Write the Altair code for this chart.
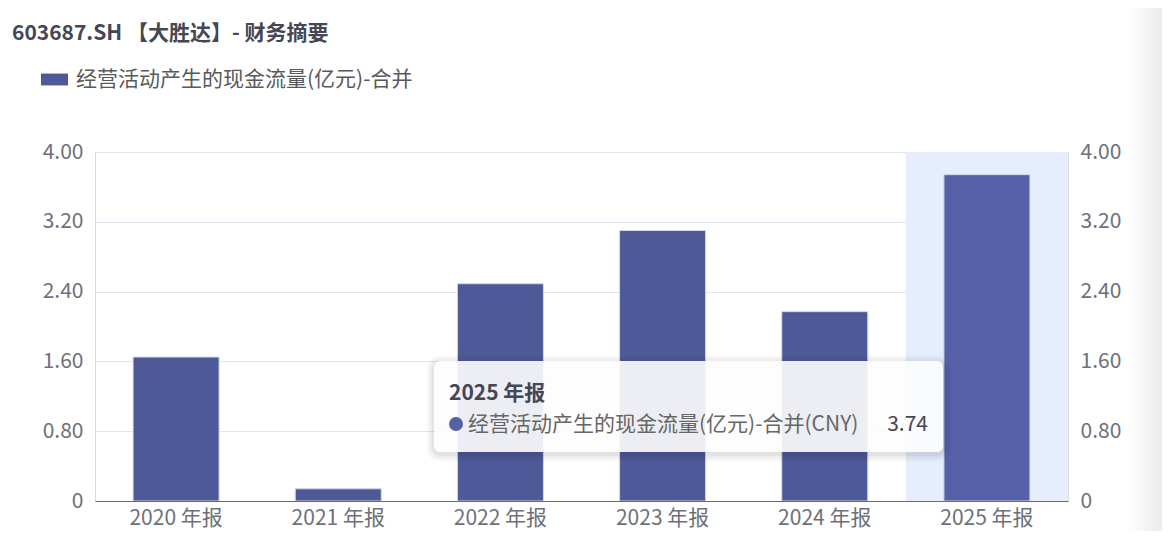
import altair as alt
import pandas as pd

categories = ["2020 年报", "2021 年报", "2022 年报", "2023 年报", "2024 年报", "2025 年报"]
values = [1.65, 0.14, 2.49, 3.10, 2.17, 3.74]
series_name = "经营活动产生的现金流量(亿元)-合并"
y_ticks = [0, 0.8, 1.6, 2.4, 3.2, 4.0]
title_text = "603687.SH 【大胜达】- 财务摘要"
highlight = "2025 年报"
unit = "CNY"

FONT = "Noto Sans CJK SC"
FS = 21
BAR = "#4E5A98"
BAR_HI = "#5461A7"

df = pd.DataFrame({"cat": categories, "val": values, "series": series_name})
hi_df = df[df["cat"] == highlight].copy()
hi_df["top"] = max(y_ticks)
hi_df["bottom"] = 0
hi_df["label"] = hi_df["series"] + "(" + unit + ")"
hi_df["vtxt"] = hi_df["val"].map(lambda v: f"{v:.2f}")

W, H = 973, 349
OX, OY = 95, 152  # plot origin on page
TOTAL_H = 523
TOTAL_W = 1154

xscale = alt.Scale(domain=categories, paddingInner=0, paddingOuter=0)
yscale = alt.Scale(domain=[0, 4.0], nice=False)
label_expr = "datum.value == 0 ? '0' : format(datum.value, '.2f')"

band = alt.Chart(hi_df).mark_rect(color="#E6EDFC").encode(
    x=alt.X("cat:N", scale=xscale, sort=categories,
            axis=alt.Axis(title=None, labelAngle=0, ticks=False, labelFontSize=FS,
                          labelColor="#6E7079", labelPadding=6, labelFont=FONT,
                          domainColor="#5B66A2", domainWidth=1.2, grid=False)),
    y=alt.Y("top:Q", scale=yscale,
            axis=alt.Axis(orient="right", title=None, values=y_ticks, labelExpr=label_expr,
                          ticks=False, domain=False, grid=False, labelFontSize=FS,
                          labelColor="#6E7079", labelPadding=12, labelFont=FONT)),
    y2="bottom:Q",
)

bars = alt.Chart(df).mark_bar(size=86, stroke="#D3D7EA", strokeWidth=1).encode(
    x=alt.X("cat:N", scale=xscale, sort=categories),
    y=alt.Y("val:Q", scale=yscale,
            axis=alt.Axis(orient="left", title=None, values=y_ticks, labelExpr=label_expr,
                          ticks=False, domain=False, grid=True, gridColor="#E0E6F1",
                          gridWidth=1.2, labelFontSize=FS, labelColor="#6E7079",
                          labelPadding=12, labelFont=FONT)),
    color=alt.condition(
        alt.datum.cat == highlight,
        alt.value(BAR_HI),
        alt.Color("series:N", scale=alt.Scale(domain=[series_name], range=[BAR]),
                  legend=alt.Legend(title=None, orient="none",
                                    legendX=41 - OX, legendY=66 - OY,
                                    symbolType="M-1,-0.44H1V0.44H-1Z", symbolSize=729,
                                    symbolStrokeWidth=0, labelFontSize=FS, labelLimit=0,
                                    labelColor="#595959", labelFont=FONT, labelOffset=8)),
    ),
)

one = hi_df.head(1)

# tooltip box (shadow layers + box)
shadows = []
for i, op in enumerate([0.035, 0.03, 0.025, 0.02]):
    g = 2 + i * 2
    shadows.append(
        alt.Chart(one).mark_rect(color="#000000", opacity=op, cornerRadius=6 + g).encode(
            x=alt.value(434 - OX - g), x2=alt.value(943 - OX + g),
            y=alt.value(361 - OY - g + 2), y2=alt.value(452 - OY + g + 2),
        )
    )
box = alt.Chart(one).mark_rect(color="#FFFFFF", opacity=0.9, cornerRadius=6).encode(
    x=alt.value(434 - OX), x2=alt.value(943 - OX),
    y=alt.value(361 - OY), y2=alt.value(452 - OY),
)
tt_title = alt.Chart(one).mark_text(align="left", baseline="alphabetic", fontSize=FS,
                                     fontWeight="bold", color="#464655", font=FONT).encode(
    x=alt.value(449 - OX), y=alt.value(400 - OY), text="cat:N")
tt_dot = alt.Chart(one).mark_point(shape="circle", filled=True, size=196, opacity=1,
                                   color=BAR_HI).encode(
    x=alt.value(456 - OX), y=alt.value(424 - OY))
tt_label = alt.Chart(one).mark_text(align="left", baseline="alphabetic", fontSize=FS,
                                     color="#666666", font=FONT).encode(
    x=alt.value(468 - OX), y=alt.value(431 - OY), text="label:N")
tt_val = alt.Chart(one).mark_text(align="right", baseline="alphabetic", fontSize=FS,
                                   color="#464655", font=FONT).encode(
    x=alt.value(928 - OX), y=alt.value(431 - OY), text="vtxt:N")

title = alt.Chart(one).mark_text(align="left", baseline="alphabetic", fontSize=FS,
                                  fontWeight="bold", color="#464655", font=FONT).encode(
    x=alt.value(12 - OX), y=alt.value(40 - OY), text=alt.value(title_text))

edge = alt.Chart(one).mark_rect(
    color=alt.Gradient(gradient="linear", x1=0, x2=1, y1=0, y2=0,
                       stops=[alt.GradientStop(color="#FFFFFF", offset=0),
                              alt.GradientStop(color="#EBEBEB", offset=1)])
).encode(x=alt.value(1128 - OX), x2=alt.value(TOTAL_W + 8 - OX),
         y=alt.value(-OY), y2=alt.value(TOTAL_H - (OY - 8)))

chart = alt.layer(band, bars, *shadows, box, tt_title, tt_dot, tt_label, tt_val, title, edge).resolve_scale(
    y="independent"
).properties(
    width=W, height=H,
    autosize=alt.AutoSizeParams(type="none"),
    padding={"left": OX - 8, "top": OY - 8, "right": TOTAL_W - (OX - 8) - W,
             "bottom": TOTAL_H - (OY - 8) - H},
).configure_view(stroke=None).configure(font=FONT)

chart.save("out.html", embed_options={"renderer": "svg", "actions": False})
